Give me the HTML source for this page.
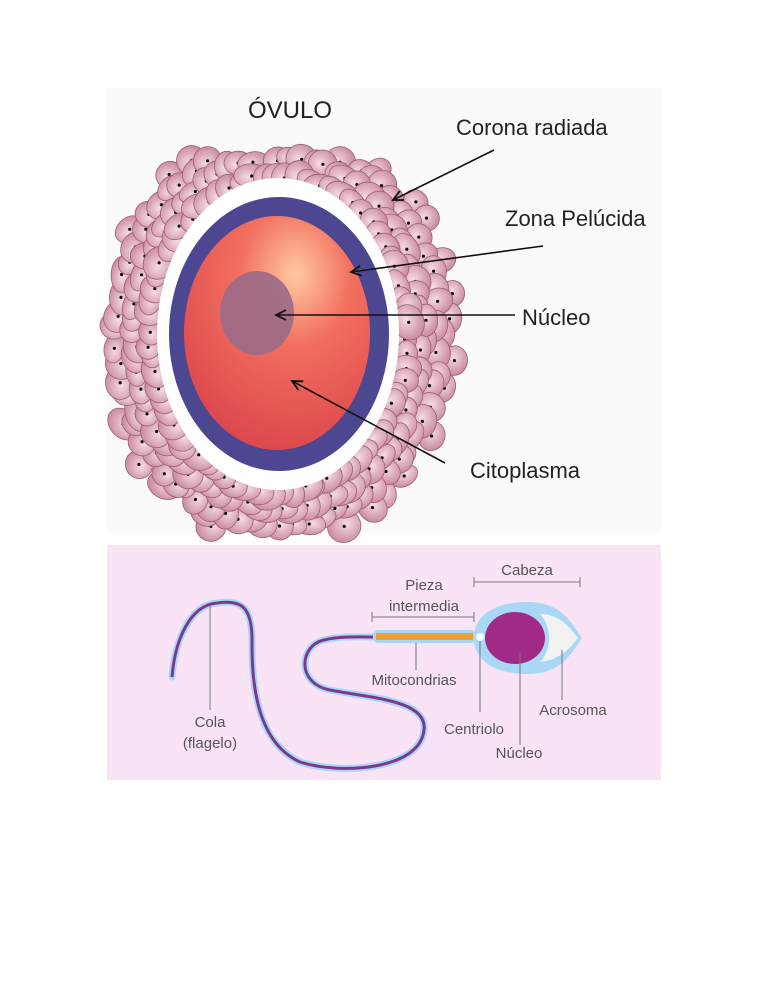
<!DOCTYPE html>
<html><head><meta charset="utf-8"><style>
html,body{margin:0;padding:0;background:#fff;width:768px;height:994px;overflow:hidden}
svg{display:block}
text{font-family:"Liberation Sans","DejaVu Sans",sans-serif}
</style></head><body>
<svg id="s" width="768" height="994" viewBox="0 0 768 994" xmlns="http://www.w3.org/2000/svg">
<defs>
<radialGradient id="cell" cx="0.45" cy="0.4" r="0.6"><stop offset="0" stop-color="#f6dbe4"/><stop offset="1" stop-color="#c98a9f"/></radialGradient>
<radialGradient id="cyto" cx="0.6" cy="0.25" r="0.85"><stop offset="0" stop-color="#ffc9a0"/><stop offset="0.35" stop-color="#f2705e"/><stop offset="1" stop-color="#d8404a"/></radialGradient>
<marker id="ah" markerWidth="14" markerHeight="12" refX="11" refY="6" orient="auto" markerUnits="userSpaceOnUse"><path d="M1,1 L11,6 L1,11" fill="none" stroke="#111" stroke-width="1.8"/></marker>
</defs>
<rect x="107" y="88" width="554" height="445" fill="#fafafa"/>
<g id="cells"></g>
<ellipse cx="278" cy="334" rx="121" ry="156" fill="#fff"/>
<ellipse cx="279" cy="334" rx="110" ry="137" fill="#4d4690"/>
<ellipse cx="277" cy="333" rx="93" ry="117" fill="url(#cyto)"/>
<ellipse cx="257" cy="313" rx="37" ry="42" fill="#9a6a88" opacity="0.9"/>
<g stroke="#111" stroke-width="1.6" fill="none">
<line x1="494" y1="150" x2="393" y2="200" marker-end="url(#ah)"/>
<line x1="543" y1="246" x2="351" y2="272" marker-end="url(#ah)"/>
<line x1="515" y1="315" x2="276" y2="315" marker-end="url(#ah)"/>
<line x1="445" y1="463" x2="292" y2="381" marker-end="url(#ah)"/>
</g>
<g fill="#222">
<text x="248" y="118" font-size="24">ÓVULO</text>
<text x="456" y="135" font-size="22">Corona radiada</text>
<text x="505" y="226" font-size="22">Zona Pelúcida</text>
<text x="522" y="325" font-size="22">Núcleo</text>
<text x="470" y="478" font-size="22">Citoplasma</text>
</g>

<rect x="107" y="545" width="554" height="235" fill="#fbe3f6"/>
<path d="M172,677 C175,640 190,605 217,603 C240,600 252,605 252,640 C252,670 252,740 300,762 C340,775 420,770 424,730 C428,700 370,698 330,690 C295,683 300,645 324,640 C340,636 360,637 374,637" fill="none" stroke="#a8d8f5" stroke-width="7" stroke-linecap="round"/>
<path d="M172,677 C175,640 190,605 217,603 C240,600 252,605 252,640 C252,670 252,740 300,762 C340,775 420,770 424,730 C428,700 370,698 330,690 C295,683 300,645 324,640 C340,636 360,637 374,637" fill="none" stroke="#7c3a8e" stroke-width="3"/>
<rect x="373" y="630" width="103" height="13" rx="5" fill="#a8d8f5"/>
<rect x="376" y="633" width="97" height="7" fill="#f0a030"/>
<path d="M474,638 C474,612 500,602 527,602 C560,602 570,620 582,638 C570,656 560,674 527,674 C500,674 474,664 474,638 Z" fill="#a8d8f5"/>
<path d="M540,614 C560,614 570,628 578,638 C570,648 560,660 540,662 C552,650 552,626 540,614 Z" fill="#f2f2f2"/>
<ellipse cx="515" cy="638" rx="30" ry="26" fill="#a02a86"/>
<circle cx="480" cy="637" r="4" fill="#fff"/>
<g stroke="#777" stroke-width="1" fill="none">
<path d="M474,582 H580 M474,577 V587 M580,577 V587"/>
<path d="M372,617 H474 M372,612 V622 M474,612 V622"/>
<path d="M416,643 V670 M210,605 V710 M480,641 V712 M520,652 V745 M562,650 V700"/>
</g>
<g fill="#555" font-size="15" text-anchor="middle">
<text x="527" y="575">Cabeza</text>
<text x="424" y="590">Pieza</text>
<text x="424" y="611">intermedia</text>
<text x="414" y="685">Mitocondrias</text>
<text x="210" y="727">Cola</text>
<text x="210" y="748">(flagelo)</text>
<text x="474" y="734">Centriolo</text>
<text x="519" y="758">Núcleo</text>
<text x="573" y="715">Acrosoma</text>
</g>
</svg>
<script>
(function(){
var g=document.getElementById('cells'),seed=11;
function r(){seed=(seed*16807)%2147483647;return seed/2147483647;}
var out='';
var layers=[[4,70],[20,74],[36,70],[50,50]];
for(var L=layers.length-1;L>=0;L--){
 var n=layers[L][1];
 for(var i=0;i<n;i++){
  var a=(i+r()*0.6)/n*Math.PI*2;
  var d=layers[L][0]+r()*8;
  if(L==3&&r()<0.4)continue;
  var cx=278+(121+d)*Math.cos(a),cy=334+(156+d)*Math.sin(a)*0.97;
  if(cy<158||cy>530||cx<112||cx>470)continue;
  var rx=10+r()*6,ry=12+r()*6,rot=(a*180/Math.PI)+r()*40-20;
  out+='<ellipse cx="'+cx.toFixed(1)+'" cy="'+cy.toFixed(1)+'" rx="'+rx.toFixed(1)+'" ry="'+ry.toFixed(1)+'" transform="rotate('+rot.toFixed(0)+' '+cx.toFixed(1)+' '+cy.toFixed(1)+')" fill="url(#cell)" stroke="#9b5f74" stroke-width="0.8"/>';
  out+='<circle cx="'+cx.toFixed(1)+'" cy="'+cy.toFixed(1)+'" r="1.6" fill="#111"/>';
 }
}
g.innerHTML=out;
})();
</script>
</body></html>
